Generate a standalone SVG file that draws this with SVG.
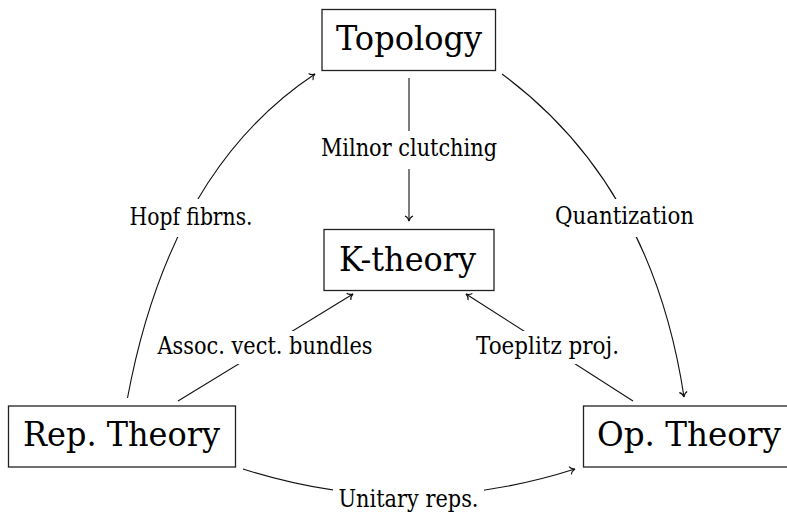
<svg xmlns="http://www.w3.org/2000/svg" width="787" height="512" viewBox="0 0 787 512">
<style>
.box{fill:#fff;stroke:#222;stroke-width:1.3}
text{font-family:"DejaVu Serif","Liberation Serif",serif;fill:#000;text-anchor:middle}
.big{font-size:34px}
.lbl{font-size:24px}
.edge{fill:none;stroke:#111;stroke-width:1.1;marker-end:url(#to)}
.bg{fill:#fff}
</style>
<defs>
<marker id="to" markerUnits="userSpaceOnUse" markerWidth="14" markerHeight="14" viewBox="-8 -7 14 14" refX="0" refY="0" orient="auto">
<path d="M-5,-4 C-4,-1.6 -1.6,-0.4 0,0 C-1.6,0.4 -4,1.6 -5,4" fill="none" stroke="#111" stroke-width="1.1"/>
</marker>
</defs>
<g id="connectors">
<path class="edge" d="M409,78 L409,221"/>
<path class="edge" d="M127.5,398 Q170,170 315,74"/>
<path class="edge" d="M502,74 Q652,185 684,397"/>
<path class="edge" d="M178,401 L353,294"/>
<path class="edge" d="M633,401 L466,294"/>
<path class="edge" d="M243,469 Q409,522 575,469"/>
<rect class="bg" x="316" y="131" width="186" height="38"/>
<text class="lbl" x="409" y="156" textLength="176" lengthAdjust="spacingAndGlyphs">Milnor clutching</text>
<rect class="bg" x="124" y="199" width="134" height="38"/>
<text class="lbl" x="191" y="224.5" textLength="123" lengthAdjust="spacingAndGlyphs">Hopf fibrns.</text>
<rect class="bg" x="550" y="199" width="149" height="38"/>
<text class="lbl" x="624.5" y="223.5" textLength="139" lengthAdjust="spacingAndGlyphs">Quantization</text>
<rect class="bg" x="152" y="331" width="226" height="33"/>
<text class="lbl" x="265" y="354" textLength="215" lengthAdjust="spacingAndGlyphs">Assoc. vect. bundles</text>
<rect class="bg" x="471" y="331" width="153" height="33"/>
<text class="lbl" x="547.5" y="353.5" textLength="143" lengthAdjust="spacingAndGlyphs">Toeplitz proj.</text>
<rect class="bg" x="333" y="482" width="151" height="30"/>
<text class="lbl" x="408.5" y="506.5" textLength="140" lengthAdjust="spacingAndGlyphs">Unitary reps.</text>
</g>
<g id="topology">
<rect class="box" x="322" y="9.5" width="173.5" height="61"/>
<text class="big" x="409" y="50" textLength="146" lengthAdjust="spacingAndGlyphs">Topology</text>
</g>
<g id="ktheory">
<rect class="box" x="324" y="229.5" width="170" height="61"/>
<text class="big" x="407.5" y="271" textLength="137" lengthAdjust="spacingAndGlyphs">K-theory</text>
</g>
<g id="reptheory">
<rect class="box" x="8.5" y="406" width="227" height="61"/>
<text class="big" x="121.5" y="446" textLength="197" lengthAdjust="spacingAndGlyphs">Rep. Theory</text>
</g>
<g id="optheory">
<rect class="box" x="583.5" y="406" width="211" height="61"/>
<text class="big" x="689" y="446" textLength="184" lengthAdjust="spacingAndGlyphs">Op. Theory</text>
</g>
</svg>
